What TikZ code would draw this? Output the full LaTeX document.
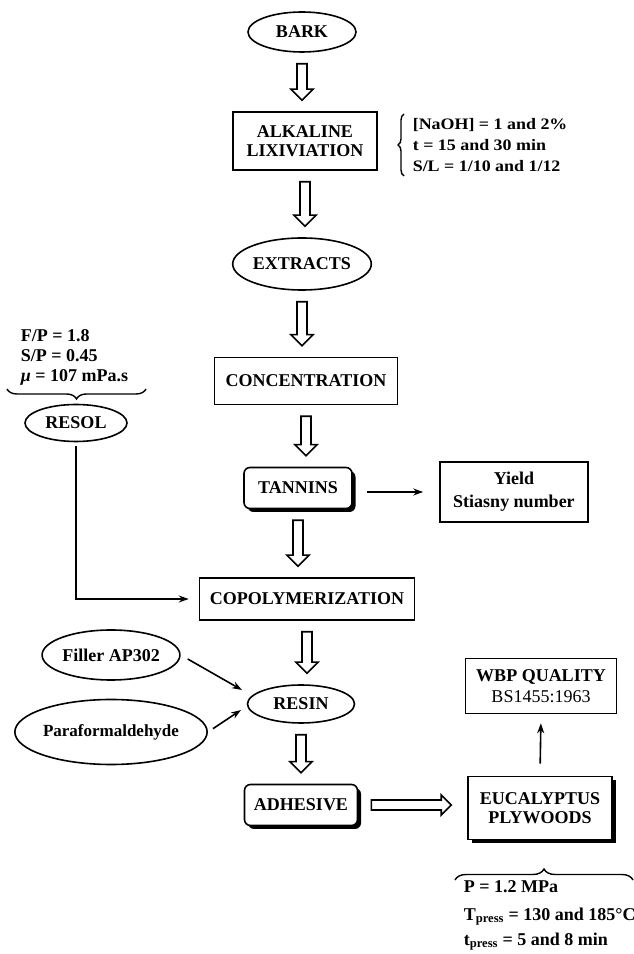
\documentclass[tikz,border=0pt]{standalone}
\usepackage{fontspec}
\setmainfont{Liberation Serif}
\newfontfamily\lblfont{Liberation Serif}[FakeStretch=1.12]
\usetikzlibrary{shapes.geometric,arrows.meta,decorations.pathreplacing,calc,shadows}

\newcommand{\blkdown}[2]{%
  \draw[blk] let \p1=($(#1.south)+(0,-11)$), \p2=($(#2.north)+(0,11)$) in
    (\x1-5pt,\y1) -- (\x1+5pt,\y1) -- (\x1+5pt,\y2+11pt) -- (\x1+11pt,\y2+11pt)
    -- (\x1,\y2) -- (\x1-11pt,\y2+11pt) -- (\x1-5pt,\y2+11pt) -- cycle;}
\newcommand{\blkright}[2]{%
  \draw[blk] let \p1=($(#1.east)+(13,0)$), \p2=($(#2.west)+(-16,0)$) in
    (\x1,\y1+5pt) -- (\x1,\y1-5pt) -- (\x2-10pt,\y1-5pt) -- (\x2-10pt,\y1-10pt)
    -- (\x2,\y1) -- (\x2-10pt,\y1+10pt) -- (\x2-10pt,\y1+5pt) -- cycle;}

\begin{document}
\begin{tikzpicture}[x=1pt,y=1pt,
  every node/.style={font=\bfseries\fontsize{18}{19}\selectfont, line width=1.6pt, inner sep=0pt},
  ell/.style={draw, ellipse},
  box/.style={draw, rectangle, align=center},
  rbox/.style={draw, rectangle, rounded corners=6pt, fill=white,
    drop shadow={shadow xshift=3.5pt, shadow yshift=-3.5pt, fill=black, opacity=1}},
  sbox/.style={draw, rectangle, fill=white, align=center,
    drop shadow={shadow xshift=3.5pt, shadow yshift=-3.5pt, fill=black, opacity=1}},
  blk/.style={line width=1.6pt, line join=miter},
  thin/.style={line width=1.6pt, -{Stealth[length=10pt,width=7pt]}},
  lbl/.style={font=\bfseries\lblfont\fontsize{16}{21}\selectfont, anchor=base west},
  par/.style={font=\bfseries\fontsize{18}{20}\selectfont, anchor=base west},
  brc/.style={decorate, line width=1.4pt},
]
\useasboundingbox (0,0) rectangle (634,954);

% main column
\node[ell, minimum width=108pt, minimum height=40pt] (bark) at (302,922) {BARK};
\node[box, minimum width=144pt, minimum height=58pt] (alk) at (305,813) {ALKALINE\\LIXIVIATION};
\node[ell, minimum width=133pt, minimum height=52pt] (extr) at (302,690) {EXTRACTS};
\node[box, minimum width=183pt, minimum height=47pt] (conc) at (306,573) {CONCENTRATION};
\node[rbox, minimum width=108pt, minimum height=41pt] (tann) at (298,466) {TANNINS};
\node[box, minimum width=148pt, minimum height=60pt, font=\bfseries\fontsize{18}{23}\selectfont] (yield) at (514,462) {Yield\\Stiasny number};
\node[box, minimum width=215pt, minimum height=42pt] (copo) at (307,355) {COPOLYMERIZATION};
\node[ell, minimum width=107pt, minimum height=38pt] (resin) at (301,250) {RESIN};
\node[rbox, minimum width=113pt, minimum height=41pt] (adh) at (301,149) {ADHESIVE};
\node[sbox, minimum width=144pt, minimum height=63pt] (euc) at (540,146) {EUCALYPTUS\\PLYWOODS};
\node[box, minimum width=151pt, minimum height=55pt, font=\fontsize{18}{21}\selectfont] (wbp) at (541,268) {\textbf{WBP QUALITY}\\BS1455:1963};

% left side
\node[ell, minimum width=102pt, minimum height=37pt] (resol) at (76,531) {RESOL};
\node[ell, minimum width=122pt, minimum height=50pt] (filler) at (111,299) {Filler AP302};
\node[ell, minimum width=163pt, minimum height=65pt, font=\bfseries\fontsize{17}{19}\selectfont] (para) at (111,222) {Paraformaldehyde};

% parameters
\node[lbl] (a1) at (412,824) {[NaOH] = 1 and 2\%};
\node[lbl] (a2) at (412,803) {t = 15 and 30 min};
\node[lbl] (a3) at (412,782) {S/L = 1/10 and 1/12};
\draw[brc, decoration={brace, amplitude=6pt}] (404,778) -- (404,840);

\node[par] (f1) at (20,612) {F/P = 1.8};
\node[par] (f2) at (20,592) {S/P = 0.45};
\node[par] (f3) at (20,572) {\textit{μ} = 107 mPa.s};
\draw[brc, decoration={brace, amplitude=10pt}] (146,565) -- (7,565);

\node[par] (p1) at (463,61) {P = 1.2 MPa};
\node[par] (p2) at (463,34) {T\textsubscript{press} = 130 and 185°C};
\node[par] (p3) at (463,9) {t\textsubscript{press} = 5 and 8 min};
\draw[brc, decoration={brace, amplitude=11pt}] (455,74) -- (633,74);

% block arrows
\blkdown{bark}{alk}
\blkdown{alk}{extr}
\blkdown{extr}{conc}
\blkdown{conc}{tann}
\blkdown{tann}{copo}
\blkdown{copo}{resin}
\blkdown{resin}{adh}
\blkright{adh}{euc}

% thin arrows
\draw[thin, shorten <=14pt, shorten >=16pt] (tann.east |- yield.west) -- (yield.west);
\draw[thin, shorten <=12pt, shorten >=9pt] (euc.north) -- (wbp.south);
\draw[thin, shorten <=4pt, shorten >=10pt] (resol.south) |- (copo.west);
\coordinate (fa) at (242,264);
\coordinate (pa) at (241,244);
\draw[thin, shorten <=8pt] (filler.east) -- (fa);
\draw[thin, shorten <=6pt] (para.east) -- (pa);
\end{tikzpicture}
\end{document}
